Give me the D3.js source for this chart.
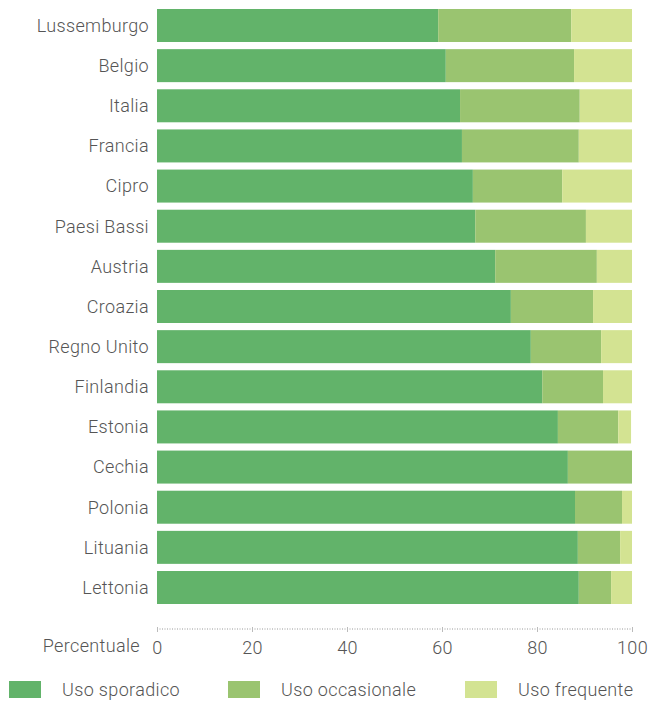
<!DOCTYPE html>
<html><head><meta charset="utf-8">
<script src="https://cdn.jsdelivr.net/npm/d3@7"></script>
<style>body{margin:0;background:#fff}svg{display:block}text{font-family:Roboto,"Noto Sans",sans-serif;font-weight:300;letter-spacing:0.35px}</style>
</head><body><svg id="c" width="659" height="702"></svg>
<script>
const categories = ["Lussemburgo","Belgio","Italia","Francia","Cipro","Paesi Bassi","Austria","Croazia","Regno Unito","Finlandia","Estonia","Cechia","Polonia","Lituania","Lettonia"];
const sporadico = [59.2,60.8,63.8,64.2,66.5,67.0,71.2,74.5,78.7,81.1,84.4,86.5,88.0,88.6,88.8];
const occasionale = [28.0,27.0,25.2,24.6,18.8,23.3,21.4,17.3,14.8,12.8,12.7,13.5,9.9,8.9,6.8];
const frequente = [12.8,12.2,11.0,11.2,14.7,9.7,7.4,8.2,6.5,6.1,2.7,0,2.1,2.5,4.4];
const seriesNames = ["Uso sporadico","Uso occasionale","Uso frequente"];
const colors = ["#62b36a","#9ac470","#d3e392"];
const ticks = [0,20,40,60,80,100];

const FS = 18, TXT = "#555";
const svg = d3.select("#c");
const x = d3.scaleLinear().domain([0,100]).range([157,632]);
const y = d3.scaleBand().domain(categories).range([9,604]).paddingInner(0.178).paddingOuter(0);

const data = categories.map((c,i)=>({cat:c, "Uso sporadico":sporadico[i], "Uso occasionale":occasionale[i], "Uso frequente":frequente[i]}));
const stack = d3.stack().keys(seriesNames)(data);

svg.append("g").selectAll("g").data(stack).join("g")
  .attr("fill",(d,i)=>colors[i])
  .selectAll("rect").data(d=>d).join("rect")
  .attr("x",d=>x(d[0])).attr("width",d=>Math.max(0,x(d[1])-x(d[0])))
  .attr("y",d=>y(d.data.cat)).attr("height",y.bandwidth());

svg.append("g").selectAll("text").data(categories).join("text")
  .attr("x",149).attr("y",d=>y(d)+y.bandwidth()/2).attr("dy","0.35em")
  .attr("text-anchor","end").attr("font-size",FS).attr("fill",TXT).text(d=>d);

// axis
const ax = svg.append("g").attr("transform","translate(0,629)");
const axis = d3.axisBottom(x).tickValues(ticks).tickSize(4).tickPadding(8).tickFormat(d3.format("d"));
ax.call(axis);
ax.select(".domain").attr("stroke","#999").attr("stroke-dasharray","1,1.5").attr("d","M157,0H632");
ax.selectAll(".tick line").attr("stroke","#bbb").attr("y1",-2).attr("y2",3);
ax.selectAll(".tick text").attr("font-size",FS).attr("fill",TXT).attr("font-family","Roboto,sans-serif").attr("font-weight",300);
svg.append("text").attr("x",140).attr("y",652).attr("text-anchor","end").attr("font-size",FS).attr("fill",TXT).text("Percentuale");

// legend
const legX = [9,228,465];
const leg = svg.append("g").selectAll("g").data(seriesNames).join("g")
  .attr("transform",(d,i)=>`translate(${legX[i]},681)`);
leg.append("rect").attr("width",32).attr("height",17).attr("fill",(d,i)=>colors[i]);
leg.append("text").attr("x",53).attr("y",9).attr("dy","0.35em").attr("font-size",FS).attr("fill",TXT).text(d=>d);
</script></body></html>
